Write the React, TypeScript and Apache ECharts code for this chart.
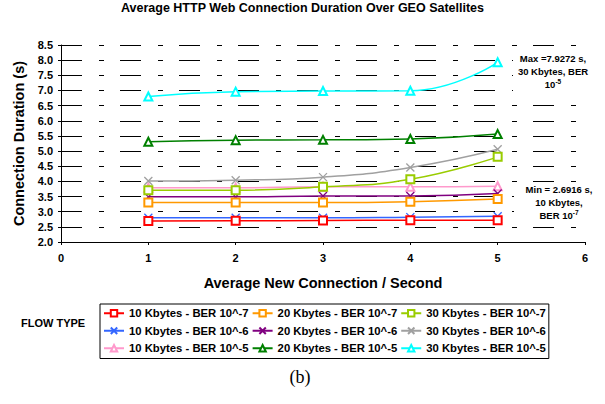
import React, { useEffect, useRef } from "react";
import * as echarts from "echarts";

const xValues = [1, 2, 3, 4, 5];
const k10ber7 = [2.69, 2.70, 2.71, 2.72, 2.72];
const k20ber7 = [3.30, 3.30, 3.30, 3.33, 3.42];
const k30ber7 = [3.71, 3.71, 3.82, 4.07, 4.81];
const k10ber6 = [2.80, 2.80, 2.80, 2.82, 2.85];
const k20ber6 = [3.49, 3.49, 3.52, 3.52, 3.60];
const k30ber6 = [4.01, 4.04, 4.14, 4.46, 5.06];
const k10ber5 = [3.79, 3.79, 3.82, 3.82, 3.84];
const k20ber5 = [5.31, 5.36, 5.37, 5.40, 5.56];
const k30ber5 = [6.80, 6.96, 6.98, 6.99, 7.93];

const seriesNames = [
  "10 Kbytes - BER 10^-7",
  "20 Kbytes - BER 10^-7",
  "30 Kbytes - BER 10^-7",
  "10 Kbytes - BER 10^-6",
  "20 Kbytes - BER 10^-6",
  "30 Kbytes - BER 10^-6",
  "10 Kbytes - BER 10^-5",
  "20 Kbytes - BER 10^-5",
  "30 Kbytes - BER 10^-5",
];
const seriesValues = [k10ber7, k20ber7, k30ber7, k10ber6, k20ber6, k30ber6, k10ber5, k20ber5, k30ber5];
const seriesColors = ["#FF0000", "#FF9900", "#99CC00", "#3366FF", "#800080", "#A0A0A0", "#FF99CC", "#008000", "#00FFFF"];
const crossPath = "path://M0 0L10 10M10 0L0 10";
const seriesSymbols = ["emptyRect", "emptyRect", "emptyRect", crossPath, crossPath, crossPath, "emptyTriangle", "emptyTriangle", "emptyTriangle"];

const maxNote = "Max =7.9272 s,\n30 Kbytes, BER\n10{sup|-5}";
const minNote = "Min = 2.6916 s,\n10 Kbytes,\nBER 10{sup|-7}";

const FONT = "'Liberation Sans', Arial, sans-serif";

export default function App() {
  const ref = useRef<HTMLDivElement>(null);
  useEffect(() => {
    if (!ref.current) return;
    const chart = echarts.init(ref.current, null, { renderer: "svg" });
    const series = seriesNames.map((name, i) => ({
      name,
      type: "line",
      smooth: true,
      data: xValues.map((x, j) => [x, seriesValues[i][j]]),
      symbol: seriesSymbols[i],
      symbolSize: 8,
      lineStyle: { color: seriesColors[i], width: 1.5 },
      itemStyle: { color: seriesColors[i], borderColor: seriesColors[i], borderWidth: 1.3 },
      z: 10 - i,
    }));
    const noteStyle = (text: string) => ({
      text,
      fontSize: 9.5,
      fontWeight: "bold",
      fill: "#000",
      fontFamily: FONT,
      align: "center",
      lineHeight: 13,
      rich: { sup: { fontSize: 6.5, fontWeight: "bold", verticalAlign: "top", lineHeight: 13, fontFamily: FONT } },
    });
    chart.setOption({
      animation: false,
      textStyle: { fontFamily: FONT },
      title: {
        text: "Average HTTP Web Connection Duration Over GEO Satellites",
        left: "center",
        top: 1,
        padding: 0,
        textStyle: { fontSize: 12.5, fontWeight: "bold", color: "#000", fontFamily: FONT },
      },
      grid: { left: 61, right: 20, top: 45, bottom: 162 },
      xAxis: {
        type: "value",
        min: 0,
        max: 6,
        interval: 1,
        name: "Average New Connection / Second",
        nameLocation: "middle",
        nameGap: 33,
        nameTextStyle: { fontSize: 14.5, fontWeight: "bold", color: "#000" },
        axisLine: { lineStyle: { color: "#000", width: 1 } },
        axisTick: { show: true, length: 3, lineStyle: { color: "#000" } },
        axisLabel: { fontSize: 11, fontWeight: "bold", color: "#000", margin: 10 },
        splitLine: { show: false },
      },
      yAxis: {
        type: "value",
        min: 2,
        max: 8.5,
        interval: 0.5,
        name: "Connection Duration (s)",
        nameLocation: "middle",
        nameGap: 32,
        nameTextStyle: { fontSize: 14.5, fontWeight: "bold", color: "#000" },
        axisLine: { show: true, lineStyle: { color: "#000", width: 1 } },
        axisTick: { show: true, length: 3, lineStyle: { color: "#000" } },
        axisLabel: {
          fontSize: 11,
          fontWeight: "bold",
          color: "#000",
          margin: 8,
          formatter: (v: number) => v.toFixed(1),
        },
        splitLine: { show: true, lineStyle: { color: "#000", width: 1, type: [21, 17, 5, 16] } },
      },
      legend: {
        data: seriesNames,
        left: 100,
        top: 304,
        width: 470,
        orient: "horizontal",
        itemWidth: 20,
        itemHeight: 8,
        itemGap: 3,
        padding: [2, 3, 3, 3],
        borderColor: "#000",
        borderWidth: 1,
        textStyle: { fontSize: 11.3, fontWeight: "bold", color: "#000", lineHeight: 14.5 },
      },
      graphic: [
        {
          type: "text",
          left: 21,
          top: 317,
          style: { text: "FLOW TYPE", fontSize: 11, fontWeight: "bold", fill: "#000", fontFamily: FONT },
        },
        {
          type: "text",
          x: 300,
          y: 377,
          style: {
            text: "(b)",
            fontSize: 18,
            fill: "#000",
            fontFamily: "'Liberation Serif', 'Times New Roman', serif",
            align: "center",
            verticalAlign: "middle",
          },
        },
        { type: "rect", shape: { x: 513, y: 50, width: 88, height: 44 }, style: { fill: "#fff" }, z: 50 },
        { type: "rect", shape: { x: 514, y: 185, width: 90, height: 38 }, style: { fill: "#fff" }, z: 50 },
        { type: "text", x: 553, y: 52, z: 60, style: noteStyle(maxNote) },
        { type: "text", x: 559, y: 182.5, z: 60, style: noteStyle(minNote) },
      ],
      series,
    });
    return () => chart.dispose();
  }, []);
  return <div ref={ref} style={{ width: 605, height: 404, position: "absolute", left: 0, top: 0, background: "#fff" }} />;
}
